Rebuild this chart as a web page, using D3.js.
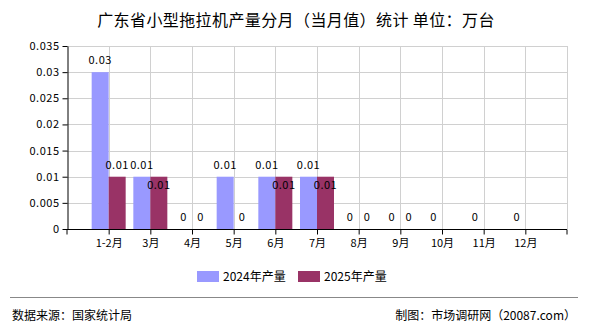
<!DOCTYPE html>
<html>
<head>
<meta charset="utf-8">
<script src="https://cdn.jsdelivr.net/npm/d3@7"></script>
<style>
    body { margin: 0; background: #fff; }
    text { font-family: "Noto Sans CJK SC", "DejaVu Sans", sans-serif; fill: #000; }
    .grid line { stroke: #d0d0d0; stroke-width: 1; }
    .axis path, .axis line { stroke: #000; }
    .axis text { font-size: 11px; }
    .valueLabel { font-size: 11px; letter-spacing: 0.5px; }
</style>
</head>
<body>
<script>
(function(){
    //chart data
    var months = ["1-2月", "3月", "4月", "5月", "6月", "7月", "8月", "9月", "10月", "11月", "12月"];
    var output2024 = [0.03, 0.01, 0, 0.01, 0.01, 0.01, 0, 0, 0, 0, 0];
    var output2025 = [0.01, 0.01, 0, 0, 0.01, 0.01, 0, 0]; //2025 only has data through Sep
    var seriesNames = ["2024年产量", "2025年产量"];
    var seriesColors = ["#9999ff", "#993366"];
    var yTicks = [0, 0.005, 0.01, 0.015, 0.02, 0.025, 0.03, 0.035];

    window.onload = drawChart();

    function drawChart(){
        var width = 590, height = 330,
            left = 67, right = 567, top = 46, bottom = 229,
            barWidth = 17;

        var svg = d3.select("body")
            .append("svg")
            .attr("width", width)
            .attr("height", height);

        //title
        svg.append("text")
            .attr("x", 296)
            .attr("y", 26)
            .attr("text-anchor", "middle")
            .style("font-size", "16px")
            .style("letter-spacing", "0.4px")
            .text("广东省小型拖拉机产量分月（当月值）统计 单位：万台");

        //scales
        var x = d3.scalePoint()
            .domain(months)
            .range([left, right])
            .padding(1);

        var y = d3.scaleLinear()
            .domain([0, 0.035])
            .range([bottom, top]);

        //horizontal grid
        svg.append("g")
            .attr("class", "grid")
            .selectAll("line")
            .data(yTicks.slice(1))
            .enter()
            .append("line")
            .attr("x1", left)
            .attr("x2", right)
            .attr("y1", function(d){ return Math.round(y(d)) + 0.5; })
            .attr("y2", function(d){ return Math.round(y(d)) + 0.5; });

        //vertical grid at category centers and right edge
        var vLines = months.map(function(m){ return x(m); }).concat([right]);
        svg.append("g")
            .attr("class", "grid")
            .selectAll("line")
            .data(vLines)
            .enter()
            .append("line")
            .attr("x1", function(d){ return Math.round(d) + 0.5; })
            .attr("x2", function(d){ return Math.round(d) + 0.5; })
            .attr("y1", top)
            .attr("y2", bottom);

        //bars
        var seriesData = [output2024, output2025];
        var labels = [];
        seriesData.forEach(function(values, s){
            var offset = s === 0 ? -barWidth : 0;
            svg.append("g")
                .selectAll("rect")
                .data(values)
                .enter()
                .append("rect")
                .attr("x", function(d, i){ return x(months[i]) + offset; })
                .attr("width", barWidth)
                .attr("y", function(d){ return y(d); })
                .attr("height", function(d){ return bottom - y(d); })
                .style("fill", seriesColors[s]);

            values.forEach(function(v, i){
                labels.push({ value: v, cx: x(months[i]) + offset + barWidth / 2, top: y(v), s: s });
            });
        });

        //value labels, pushed into the bar when they collide with another label
        var placed = [];
        labels.sort(function(a, b){ return a.s - b.s; });
        labels.forEach(function(l){
            var txt = String(l.value);
            var w = txt.length * 5.6;
            var ly = l.top - 8;
            var hit = placed.some(function(p){
                return Math.abs(p.cx - l.cx) < (p.w + w) / 2 && Math.abs(p.y - ly) < 10;
            });
            if (hit) ly = l.top + 12;
            placed.push({ cx: l.cx, y: ly, w: w });
            svg.append("text")
                .attr("class", "valueLabel")
                .attr("x", l.cx)
                .attr("y", ly)
                .attr("text-anchor", "middle")
                .text(txt);
        });

        //y axis
        var yAxis = d3.axisLeft(y)
            .tickValues(yTicks)
            .tickSize(5)
            .tickSizeOuter(0)
            .tickFormat(function(d){ return String(+d.toFixed(3)); });
        svg.append("g")
            .attr("class", "axis")
            .attr("transform", "translate(" + (left + 0.5) + ",0)")
            .call(yAxis)
            .selectAll("text")
            .style("letter-spacing", "0.5px");

        //x axis
        var xAxis = d3.axisBottom(x)
            .tickSize(5)
            .tickSizeOuter(5)
            .tickPadding(5);
        var xg = svg.append("g")
            .attr("class", "axis")
            .attr("transform", "translate(0," + (bottom + 0.5) + ")")
            .call(xAxis);
        xg.select(".domain").attr("d", "M" + left + ",5V0H" + right + "V5");

        //legend
        var legend = svg.append("g");
        var legendX = [197, 298];
        seriesNames.forEach(function(name, s){
            legend.append("rect")
                .attr("x", legendX[s])
                .attr("y", 271)
                .attr("width", 22)
                .attr("height", 11)
                .style("fill", seriesColors[s]);
            legend.append("text")
                .attr("x", legendX[s] + 26)
                .attr("y", 281)
                .style("font-size", "12px")
                .text(name);
        });

        //footer
        svg.append("line")
            .attr("x1", 10)
            .attr("x2", 578)
            .attr("y1", 297.5)
            .attr("y2", 297.5)
            .style("stroke", "#888");
        svg.append("text")
            .attr("x", 12)
            .attr("y", 320)
            .style("font-size", "12px")
            .text("数据来源：国家统计局");
        svg.append("text")
            .attr("x", 576)
            .attr("y", 320)
            .attr("text-anchor", "end")
            .style("font-size", "12px")
            .text("制图：市场调研网（20087.com）");
    }
})();
</script>
</body>
</html>
